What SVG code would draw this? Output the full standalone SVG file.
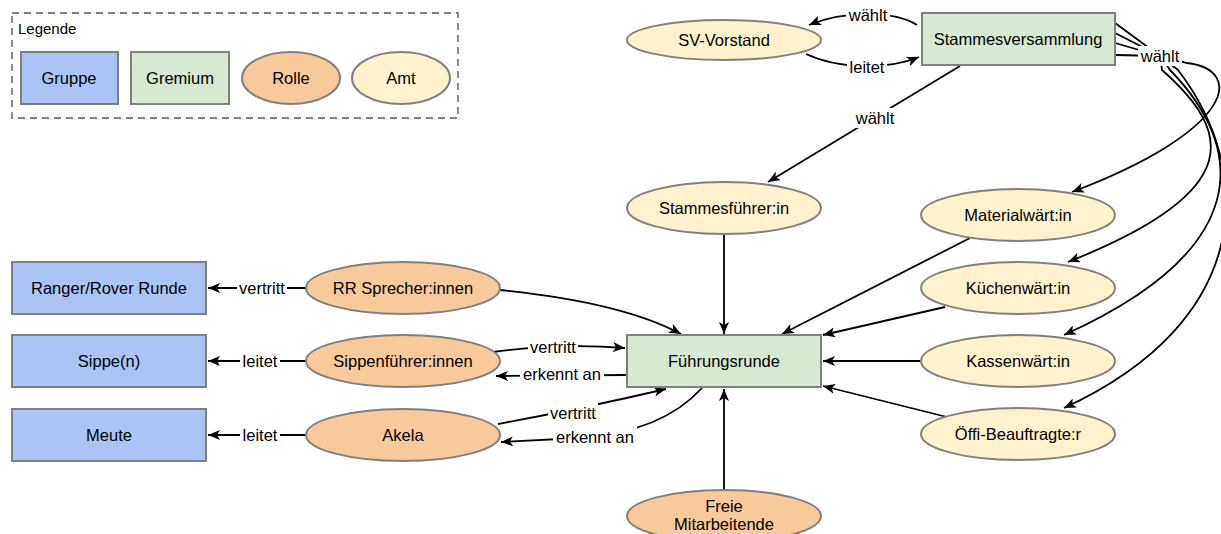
<svg xmlns="http://www.w3.org/2000/svg" width="1221" height="534" viewBox="0 0 1221 534">
<style>
text{font-family:"Liberation Sans",Arial,sans-serif;font-size:16.5px;fill:#000;text-anchor:middle}
.grp{fill:#a9c4f5;stroke:#808080;stroke-width:2}
.grm{fill:#d7e8d3;stroke:#808080;stroke-width:2}
.rol{fill:#f8c99b;stroke:#808080;stroke-width:2}
.amt{fill:#fff2cc;stroke:#808080;stroke-width:2}
.e{fill:none;stroke:#000;stroke-width:1.8;marker-end:url(#ah)}
.lb{fill:#fff}
</style>
<defs>
<marker id="ah" markerUnits="userSpaceOnUse" markerWidth="13" markerHeight="10" refX="12" refY="5" orient="auto">
<path d="M0,0 L12,5 L0,10 L3,5 z" fill="#000"/>
</marker>
</defs>
<rect width="1221" height="534" fill="#fff"/>

<g id="legend">
<rect x="12" y="13" width="446" height="105" fill="none" stroke="#808080" stroke-width="1.8" stroke-dasharray="7,5"/>
<text x="18" y="34" style="text-anchor:start;font-size:15px">Legende</text>
<rect class="grp" x="21" y="52" width="97" height="52"/>
<text x="69" y="78" dy="0.35em">Gruppe</text>
<rect class="grm" x="131" y="52" width="98" height="52"/>
<text x="180" y="78" dy="0.35em">Gremium</text>
<ellipse class="rol" cx="291" cy="78" rx="49" ry="26"/>
<text x="291" y="78" dy="0.35em">Rolle</text>
<ellipse class="amt" cx="401" cy="78" rx="49" ry="26"/>
<text x="401" y="78" dy="0.35em">Amt</text>
</g>

<g id="connectors">
<path class="e" d="M917,25 C895,11 845,10 809,25"/>
<path class="e" d="M806,54 C840,70 890,69 919,57"/>
<path class="e" d="M960,66 L768,182"/>
<path class="e" d="M1115,55 L1160,56 L1187,63 C1245,70 1235,130 1072,192"/>
<path class="e" d="M1115,23 L1160,56 L1162,70 C1230,130 1250,190 1068,262"/>
<path class="e" d="M1115,33 L1160,56 L1170,70 C1248,150 1252,250 1064,335"/>
<path class="e" d="M1115,43 L1160,56 L1178,70 C1255,170 1255,320 1064,408"/>
<path class="e" d="M724,234 L724,334"/>
<path class="e" d="M970,238 L782,334"/>
<path class="e" d="M945,307 L823,335"/>
<path class="e" d="M921,361 L823,361"/>
<path class="e" d="M947,417 L823,386"/>
<path class="e" d="M724,490 L724,389"/>
<path class="e" d="M500,290 C580,298 640,312 681,334"/>
<path class="e" d="M306,288 L208,288"/>
<path class="e" d="M306,361 L208,361"/>
<path class="e" d="M306,435 L208,435"/>
<path class="e" d="M493,352 Q560,343 625,348"/>
<path class="e" d="M626,375 L496,376"/>
<path class="e" d="M498,424 Q585,408 666,389"/>
<path class="e" d="M702,388 Q662,432 580,438 L501,442"/>

<rect class="lb" x="846" y="5" width="44" height="20"/>
<text x="868" y="15" dy="0.35em">wählt</text>
<rect class="lb" x="847" y="57" width="40" height="20"/>
<text x="867" y="67" dy="0.35em">leitet</text>
<rect class="lb" x="853" y="108" width="44" height="20"/>
<text x="875" y="118" dy="0.35em">wählt</text>
<rect class="lb" x="1138" y="46" width="44" height="20"/>
<text x="1160" y="56" dy="0.35em">wählt</text>
<rect class="lb" x="237" y="278" width="50" height="20"/>
<text x="262" y="288" dy="0.35em">vertritt</text>
<rect class="lb" x="240" y="351" width="40" height="20"/>
<text x="260" y="361" dy="0.35em">leitet</text>
<rect class="lb" x="240" y="425" width="40" height="20"/>
<text x="260" y="435" dy="0.35em">leitet</text>
<rect class="lb" x="528" y="337" width="50" height="20"/>
<text x="553" y="347" dy="0.35em">vertritt</text>
<rect class="lb" x="520" y="364" width="84" height="20"/>
<text x="562" y="374" dy="0.35em">erkennt an</text>
<rect class="lb" x="548" y="403" width="50" height="20"/>
<text x="573" y="413" dy="0.35em">vertritt</text>
<rect class="lb" x="553" y="427" width="84" height="20"/>
<text x="595" y="437" dy="0.35em">erkennt an</text>
</g>

<g id="stammesversammlung">
<rect class="grm" x="922" y="13" width="193" height="52"/>
<text x="1018" y="39" dy="0.35em">Stammesversammlung</text>
</g>
<g id="sv-vorstand">
<ellipse class="amt" cx="724" cy="40" rx="97" ry="20"/>
<text x="724" y="40" dy="0.35em">SV-Vorstand</text>
</g>
<g id="stammesfuehrer">
<ellipse class="amt" cx="724" cy="208" rx="97" ry="26"/>
<text x="724" y="208" dy="0.35em">Stammesführer:in</text>
</g>
<g id="fuehrungsrunde">
<rect class="grm" x="627" y="335" width="194" height="52"/>
<text x="724" y="361" dy="0.35em">Führungsrunde</text>
</g>
<g id="materialwart">
<ellipse class="amt" cx="1018" cy="215" rx="97" ry="26"/>
<text x="1018" y="215" dy="0.35em">Materialwärt:in</text>
</g>
<g id="kuechenwart">
<ellipse class="amt" cx="1018" cy="288" rx="97" ry="26"/>
<text x="1018" y="288" dy="0.35em">Küchenwärt:in</text>
</g>
<g id="kassenwart">
<ellipse class="amt" cx="1018" cy="361" rx="97" ry="26"/>
<text x="1018" y="361" dy="0.35em">Kassenwärt:in</text>
</g>
<g id="oeffi">
<ellipse class="amt" cx="1018" cy="434" rx="97" ry="26"/>
<text x="1018" y="434" dy="0.35em">Öffi-Beauftragte:r</text>
</g>
<g id="freie">
<ellipse class="rol" cx="724" cy="516" rx="97" ry="26"/>
<text x="724" y="506" dy="0.35em">Freie</text>
<text x="724" y="524" dy="0.35em">Mitarbeitende</text>
</g>
<g id="rover">
<rect class="grp" x="12" y="262" width="194" height="52"/>
<text x="109" y="288" dy="0.35em">Ranger/Rover Runde</text>
</g>
<g id="sippe">
<rect class="grp" x="12" y="335" width="194" height="52"/>
<text x="109" y="361" dy="0.35em">Sippe(n)</text>
</g>
<g id="meute">
<rect class="grp" x="12" y="409" width="194" height="52"/>
<text x="109" y="435" dy="0.35em">Meute</text>
</g>
<g id="rr-sprecher">
<ellipse class="rol" cx="403" cy="288" rx="97" ry="26"/>
<text x="403" y="288" dy="0.35em">RR Sprecher:innen</text>
</g>
<g id="sippenfuehrer">
<ellipse class="rol" cx="403" cy="361" rx="97" ry="26"/>
<text x="403" y="361" dy="0.35em">Sippenführer:innen</text>
</g>
<g id="akela">
<ellipse class="rol" cx="403" cy="435" rx="97" ry="26"/>
<text x="403" y="435" dy="0.35em">Akela</text>
</g>
</svg>
